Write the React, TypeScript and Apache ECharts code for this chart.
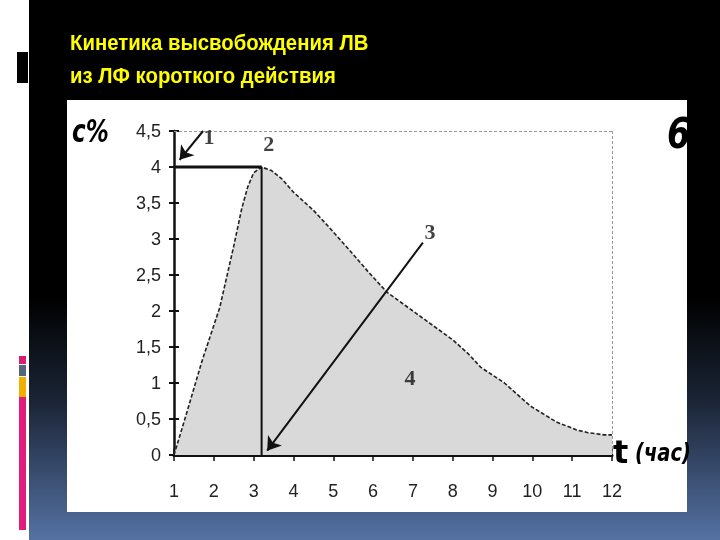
import React, { useEffect, useRef } from "react";
import * as echarts from "echarts";

const titleLines = ["Кинетика высвобождения ЛВ", "из ЛФ короткого действия"];
const tHours = [1, 1.3, 1.7, 2.15, 2.5, 2.7, 2.85, 3.0, 3.2, 3.45, 3.7, 4.0, 4.5, 4.85, 5.4, 5.9, 6.35, 6.8, 7.2, 7.6, 8.0, 8.4, 8.7, 9.3, 9.95, 10.6, 11.1, 11.4, 11.8, 12];
const concentration = [0, 0.55, 1.3, 2.05, 2.9, 3.42, 3.72, 3.92, 4.0, 3.95, 3.84, 3.65, 3.4, 3.19, 2.85, 2.53, 2.26, 2.08, 1.92, 1.76, 1.6, 1.4, 1.22, 1.0, 0.68, 0.46, 0.35, 0.31, 0.28, 0.28];
const peak = [3.2, 4.0];
const annotations = [
  { name: "1", t: 1.88, c: 4.42 },
  { name: "2", t: 3.38, c: 4.32 },
  { name: "3", t: 7.43, c: 3.1 },
  { name: "4", t: 6.93, c: 1.07 },
];
const arrow1 = [[1.73, 4.5], [1.14, 4.1]];
const arrow3 = [[7.25, 2.95], [3.34, 0.06]];
const xMin = 1, xMax = 12, yMin = 0, yMax = 4.5;

export default function App() {
  const ref = useRef<HTMLDivElement>(null);
  useEffect(() => {
    if (!ref.current) return;
    const chart = echarts.init(ref.current, null, { renderer: "svg" });
    const fmt = (v: number) => String(v).replace(".", ",");
    const labelFont = "'Liberation Sans Narrow', 'Liberation Sans', Arial, sans-serif";
    chart.setOption({
      animation: false,
      backgroundColor: "transparent",
      grid: { left: 174, right: 108, top: 131, bottom: 85 },
      xAxis: [
        {
          type: "value", min: xMin, max: xMax, interval: 1,
          axisLine: { show: true, onZero: false, lineStyle: { color: "#111", width: 3 } },
          axisTick: { show: true, length: 6, lineStyle: { color: "#111", width: 1.5 } },
          axisLabel: { color: "#222", fontSize: 18, fontFamily: labelFont, margin: 27 },
          splitLine: { show: false },
        },
        {
          type: "value", min: xMin, max: xMax, interval: 1, position: "bottom",
          axisLine: { show: false },
          axisTick: { show: true, inside: true, length: 6, lineStyle: { color: "#111", width: 1.5 } },
          axisLabel: { show: false }, splitLine: { show: false },
        },
      ],
      yAxis: [
        {
          type: "value", min: yMin, max: yMax, interval: 0.5,
          axisLine: { show: true, onZero: false, lineStyle: { color: "#111", width: 2.5 } },
          axisTick: { show: true, length: 5, lineStyle: { color: "#111", width: 2 } },
          axisLabel: { color: "#222", fontSize: 18, fontFamily: labelFont, margin: 13, formatter: fmt },
          splitLine: { show: false },
        },
        {
          type: "value", min: yMin, max: yMax, interval: 0.5, position: "left",
          axisLine: { show: false },
          axisTick: { show: true, inside: true, length: 5, lineStyle: { color: "#111", width: 2 } },
          axisLabel: { show: false }, splitLine: { show: false },
        },
      ],
      series: [
        {
          type: "line",
          data: tHours.map((t, i) => [t, concentration[i]]),
          symbol: "none",
          smooth: false,
          lineStyle: { color: "#222", width: 1.6, type: [4, 2] },
          areaStyle: { color: "#d9d9d9", opacity: 1 },
          z: 2,
          markLine: {
            silent: true,
            symbol: ["none", "none"],
            label: { show: false },
            lineStyle: { color: "#999", width: 1, type: [3, 2] },
            data: [
              [{ coord: [xMin, yMax] }, { coord: [xMax, yMax] }],
              [{ coord: [xMax, yMax] }, { coord: [xMax, yMin] }],
            ],
          },
        },
        {
          type: "line",
          data: [[xMin, peak[1]], [peak[0], peak[1]]],
          symbol: "none",
          lineStyle: { color: "#111", width: 3, type: "solid" },
          z: 3,
          markLine: {
            silent: true,
            symbol: ["none", "arrow"],
            symbolSize: 13,
            label: { show: false },
            itemStyle: { color: "#111" },
            lineStyle: { color: "#111", width: 2, type: "solid" },
            data: [
              [{ coord: arrow1[0] }, { coord: arrow1[1] }],
              [{ coord: arrow3[0] }, { coord: arrow3[1] }],
            ],
          },
        },
        {
          type: "line",
          data: [[peak[0], peak[1]], [peak[0], yMin]],
          symbol: "none",
          lineStyle: { color: "#111", width: 2, type: "solid" },
          z: 3,
        },
        {
          type: "scatter",
          symbolSize: 0,
          data: annotations.map((a) => ({ name: a.name, value: [a.t, a.c] })),
          label: {
            show: true, position: "inside", formatter: "{b}",
            color: "#111", fontSize: 22, fontWeight: "bold",
            fontFamily: "'Liberation Serif', 'DejaVu Serif', serif",
          },
          z: 5,
        },
      ],
      graphic: [
        { type: "rect", z: -10, shape: { x: 0, y: 0, width: 720, height: 540 }, style: { fill: "#ffffff" } },
        {
          type: "rect", z: -9, shape: { x: 29, y: 0, width: 691, height: 540 },
          style: {
            fill: new echarts.graphic.LinearGradient(0, 0, 0, 1, [
              { offset: 0, color: "#000000" },
              { offset: 0.55, color: "#000000" },
              { offset: 0.75, color: "#1c2638" },
              { offset: 1, color: "#5572a3" },
            ]),
          },
        },
        { type: "rect", z: -9, shape: { x: 17, y: 52, width: 11, height: 31 }, style: { fill: "#000" } },
        { type: "rect", z: -9, shape: { x: 19, y: 356, width: 7, height: 8 }, style: { fill: "#d81e74" } },
        { type: "rect", z: -9, shape: { x: 19, y: 365, width: 7, height: 11 }, style: { fill: "#55667a" } },
        { type: "rect", z: -9, shape: { x: 19, y: 377, width: 7, height: 20 }, style: { fill: "#f0b000" } },
        { type: "rect", z: -9, shape: { x: 19, y: 397, width: 7, height: 133 }, style: { fill: "#e01c7c" } },
        { type: "rect", z: -8, shape: { x: 67, y: 100, width: 620, height: 412 }, style: { fill: "#ffffff" } },
        {
          type: "text", z: 10, x: 70, y: 42, scaleX: 0.925,
          style: { text: titleLines[0], fill: "#ffff00", fontSize: 22, fontWeight: "bold", fontFamily: "'Liberation Sans', Arial, sans-serif", verticalAlign: "middle" },
        },
        {
          type: "text", z: 10, x: 70, y: 75, scaleX: 0.925,
          style: { text: titleLines[1], fill: "#ffff00", fontSize: 22, fontWeight: "bold", fontFamily: "'Liberation Sans', Arial, sans-serif", verticalAlign: "middle" },
        },
        {
          type: "text", z: 10, x: 72, y: 131, scaleX: 0.72,
          style: { text: "c%", fill: "#000", fontSize: 32, fontWeight: "bold", fontStyle: "italic", fontFamily: "'DejaVu Sans', sans-serif", verticalAlign: "middle" },
        },
        {
          type: "text", z: 10, x: 667, y: 134, scaleX: 0.8,
          style: { text: "6", fill: "#000", fontSize: 42, fontWeight: "bold", fontStyle: "italic", fontFamily: "'DejaVu Sans', sans-serif", verticalAlign: "middle" },
        },
        {
          type: "text", z: 10, x: 613, y: 452,
          style: { text: "t", fill: "#000", fontSize: 32, fontWeight: "bold", fontFamily: "'DejaVu Sans', sans-serif", verticalAlign: "middle" },
        },
        {
          type: "text", z: 10, x: 635, y: 452, scaleX: 0.78,
          style: { text: "(час)", fill: "#000", fontSize: 25, fontWeight: "bold", fontStyle: "italic", fontFamily: "'DejaVu Sans', sans-serif", verticalAlign: "middle" },
        },
      ],
    });
    return () => chart.dispose();
  }, []);
  return <div ref={ref} style={{ position: "fixed", left: 0, top: 0, width: 720, height: 540 }} />;
}
